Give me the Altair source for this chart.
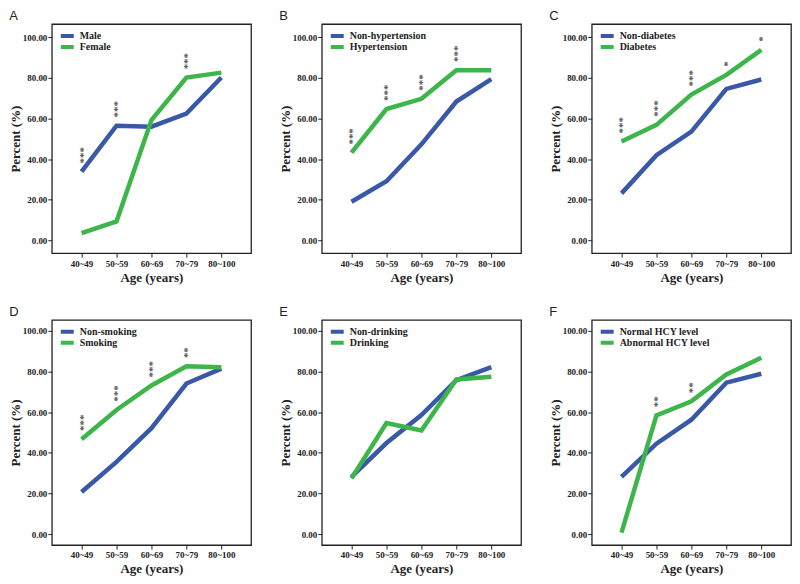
import altair as alt
import pandas as pd

ages = ["40~49", "50~59", "60~69", "70~79", "80~100"]

male = [33.8, 56.4, 55.9, 62.4, 80.1]
female = [3.6, 9.3, 59.2, 80.1, 82.5]
stars_a = ["***", "***", "", "***", ""]

non_hyper = [19.0, 29.1, 47.2, 68.3, 79.3]
hyper = [43.1, 64.6, 69.6, 83.7, 83.7]
stars_b = ["***", "***", "***", "***", ""]

non_diab = [23.1, 41.9, 53.5, 74.5, 79.1]
diab = [48.6, 56.8, 71.7, 81.4, 93.7]
stars_c = ["***", "***", "***", "*", "*"]

non_smoke = [20.7, 35.5, 52.1, 74.1, 81.4]
smoke = [46.7, 61.1, 73.1, 82.6, 82.1]
stars_d = ["***", "***", "***", "**", ""]

non_drink = [28.2, 44.8, 58.6, 75.7, 82.2]
drink = [27.4, 54.6, 51.0, 76.1, 77.4]
stars_e = ["", "", "", "", ""]

normal_hcy = [28.2, 44.5, 56.3, 74.5, 78.9]
abnormal_hcy = [0.7, 58.4, 65.3, 78.6, 86.8]
stars_f = ["", "**", "**", "", ""]

BLUE = "#3a58a8"
GREEN = "#3db54a"
SERIF = "Liberation Serif"
W = 200


def panel(letter, n1, v1, n2, v2, stars, height, ydom):
    df = pd.DataFrame({
        "age": ages * 2,
        "group": [n1] * 5 + [n2] * 5,
        "value": v1 + v2,
    })
    sdf = pd.DataFrame({
        "age": ages,
        "value": [max(a, b) + 4 for a, b in zip(v1, v2)],
        "stars": stars,
    })
    sdf = sdf[sdf["stars"] != ""]

    x = alt.X("age:N", sort=ages,
              scale=alt.Scale(type="point", padding=0.85),
              axis=alt.Axis(title="Age (years)", labelAngle=0, titlePadding=3,
                            labelPadding=2))
    y = alt.Y("value:Q",
              scale=alt.Scale(domain=ydom, nice=False, zero=False),
              axis=alt.Axis(title="Percent (%)", values=[0, 20, 40, 60, 80, 100],
                            format=".2f", titlePadding=0, labelPadding=1))

    lines = alt.Chart(df).mark_line(strokeWidth=4.5).encode(
        x=x, y=y,
        color=alt.Color("group:N",
                        scale=alt.Scale(domain=[n1, n2], range=[BLUE, GREEN]),
                        legend=alt.Legend(title=None, orient="top-left", offset=7,
                                          symbolType="M-1,0H1", symbolStrokeWidth=4,
                                          symbolSize=169, labelFont=SERIF,
                                          labelFontWeight="bold", labelFontSize=10,
                                          labelColor="#222", rowPadding=1,
                                          clipHeight=10,
                                          labelOffset=4, padding=0)),
    )
    layers = [lines]
    if len(sdf):
        txt = alt.Chart(sdf).mark_text(angle=270, align="left", baseline="middle",
                                       font=SERIF, fontWeight="bold", fontSize=11,
                                       color="#555", dy=2).encode(
            x=alt.X("age:N", sort=ages), y=alt.Y("value:Q"), text="stars:N")
        layers.append(txt)
    return alt.layer(*layers).properties(
        width=W, height=height,
        title=alt.TitleParams(letter, anchor="start", font="Liberation Sans",
                              fontSize=13, fontWeight="normal", offset=1,
                              color="#222"),
    )


top = alt.hconcat(
    panel("A", "Male", male, "Female", female, stars_a, 230, [-6.3, 106.4]),
    panel("B", "Non-hypertension", non_hyper, "Hypertension", hyper, stars_b, 230, [-6.3, 106.4]),
    panel("C", "Non-diabetes", non_diab, "Diabetes", diab, stars_c, 230, [-6.3, 106.4]),
    spacing=26,
).resolve_scale(color="independent", x="independent", y="independent")

bottom = alt.hconcat(
    panel("D", "Non-smoking", non_smoke, "Smoking", smoke, stars_d, 226, [-5.4, 105.4]),
    panel("E", "Non-drinking", non_drink, "Drinking", drink, stars_e, 226, [-5.4, 105.4]),
    panel("F", "Normal HCY level", normal_hcy, "Abnormal HCY level", abnormal_hcy, stars_f, 226, [-5.4, 105.4]),
    spacing=26,
).resolve_scale(color="independent", x="independent", y="independent")

chart = alt.vconcat(top, bottom, spacing=20).resolve_scale(
    color="independent", x="independent", y="independent"
).properties(padding=0).configure_view(
    stroke="#222", strokeWidth=1.3
).configure_axis(
    grid=False, domain=False, tickColor="#222", tickSize=4,
    labelFont=SERIF, labelFontWeight="bold", labelFontSize=9, labelColor="#222",
    titleFont=SERIF, titleFontWeight="bold", titleFontSize=13, titleColor="#222",
)

chart.save("out.html", embed_options={"renderer": "svg", "actions": False})
